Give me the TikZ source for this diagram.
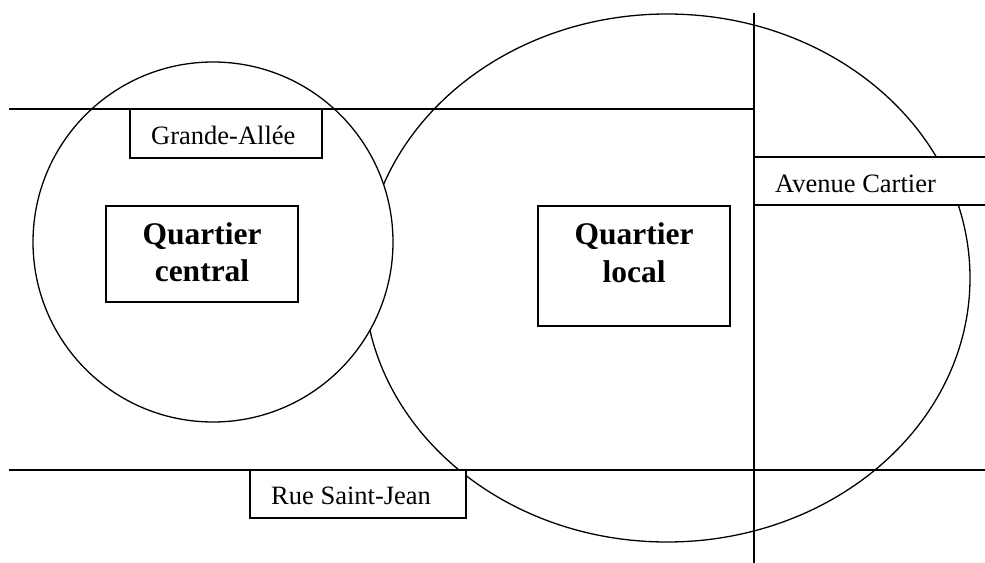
\documentclass[tikz,border=0pt]{standalone}
\usepackage{fontspec}
\setmainfont{Liberation Serif}
\begin{document}
\begin{tikzpicture}[x=1bp,y=-1bp,
  road/.style={line width=1.6bp},
  zone/.style={line width=1.3bp},
  lblbox/.style={draw, line width=1.5bp, fill=white, inner sep=0pt},
  roadtxt/.style={font=\fontsize{26.5bp}{30bp}\selectfont, inner sep=0pt, anchor=base west},
  qtxt/.style={font=\fontsize{31.5bp}{37bp}\selectfont\bfseries, inner sep=0pt, anchor=base}]
\useasboundingbox (0,0) rectangle (985,563);
% zones
\draw[zone] (667,278) ellipse [x radius=303, y radius=264];
\draw[zone, fill=white] (213,242) circle [radius=180];
% Avenue Cartier band
\node[fill=white, inner sep=0pt, minimum width=231bp, minimum height=48bp] (acband) at (869.5,181) {};
\draw[road] (acband.north west) -- (acband.north east);
\draw[road] (acband.south west) -- (acband.south east);
% roads
\coordinate (tl) at (9,109);
\coordinate (tr) at (754,109);
\coordinate (vt) at (754,13);
\coordinate (vb) at (754,563);
\coordinate (bl) at (9,470);
\coordinate (br) at (985,470);
\draw[road] (tl) -- (tr);
\draw[road] (vt) -- (vb);
\draw[road] (bl) -- (br);
% label boxes
\node[lblbox, minimum width=192bp, minimum height=49bp] (gabox) at (226,133.5) {};
\node[roadtxt] (ga) at (151,145) {Grande-Allée};
\node[lblbox, minimum width=216bp, minimum height=48bp] (rsjbox) at (358,494) {};
\node[roadtxt] (rsj) at (271,504) {Rue Saint-Jean};
\node[roadtxt] (ac) at (775,193) {Avenue Cartier};
% quartier boxes
\node[lblbox, minimum width=192bp, minimum height=96bp] (qcbox) at (202,254) {};
\node[qtxt] (qc1) at (202,245) {Quartier};
\node[qtxt] (qc2) at (202,282) {central};
\node[lblbox, minimum width=192bp, minimum height=120bp] (qlbox) at (634,266) {};
\node[qtxt] (ql1) at (634,245) {Quartier};
\node[qtxt] (ql2) at (634,283) {local};
\end{tikzpicture}
\end{document}
